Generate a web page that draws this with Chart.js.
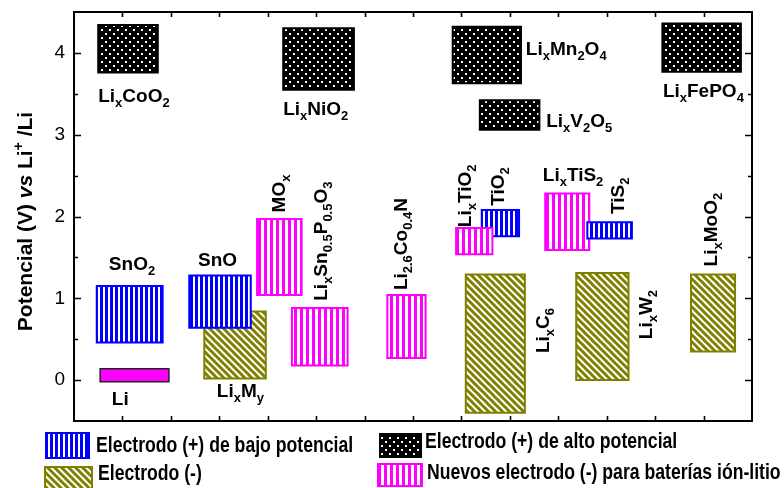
<!DOCTYPE html>
<html>
<head>
<meta charset="utf-8">
<script src="https://cdn.jsdelivr.net/npm/chart.js@4/dist/chart.umd.min.js"></script>
<style>
  html, body { margin: 0; padding: 0; background: #fff; }
  #wrap { width: 784px; height: 488px; }
</style>
</head>
<body>
<div id="wrap"><canvas id="c" width="784" height="488"></canvas></div>
<script>
// Electrode materials and their potential windows vs Li+/Li (V)
const materials = ['LixCoO2', 'LixNiO2', 'LixMn2O4', 'LixV2O5', 'LixFePO4', 'SnO2', 'Li', 'LixMy', 'SnO',
  'MOx', 'LixSn0.5P0.5O3', 'Li2.6Co0.4N', 'LixC6', 'TiO2', 'LixTiO2', 'LixTiS2', 'TiS2', 'LixW2', 'LixMoO2'];
const families = ['alto', 'alto', 'alto', 'alto', 'alto', 'bajo', 'litio', 'neg', 'bajo',
  'nuevo', 'nuevo', 'nuevo', 'neg', 'bajo', 'nuevo', 'nuevo', 'bajo', 'neg', 'neg'];
// horizontal extent of each block (slot units, 0..14)
const slotStart = [0.50, 4.32, 7.82, 8.38, 12.15, 0.47, 0.54, 2.69, 2.38, 3.78, 4.50, 6.47, 8.09, 8.42, 7.89, 9.73, 10.60, 10.37, 12.74];
const slotEnd   = [1.73, 5.78, 9.23, 9.61, 13.77, 1.83, 1.96, 3.96, 3.65, 4.70, 5.65, 7.26, 9.31, 9.19, 8.64, 10.64, 11.52, 11.45, 13.65];
// potential range (V)
const vMin = [3.76, 3.55, 3.63, 3.06, 3.77, 0.46, -0.02, 0.02, 0.64, 1.04, 0.18, 0.27, -0.40, 1.76, 1.54, 1.59, 1.73, 0.00, 0.35];
const vMax = [4.34, 4.30, 4.32, 3.42, 4.36, 1.15, 0.14, 0.84, 1.28, 1.97, 0.88, 1.04, 1.29, 2.08, 1.86, 2.28, 1.93, 1.31, 1.29];

// formula labels: "_" = subscript
const labelText = ['Li_xCoO_2', 'Li_xNiO_2', 'Li_xMn_2O_4', 'Li_xV_2O_5', 'Li_xFePO_4', 'SnO_2', 'Li', 'Li_xM_y', 'SnO',
  'MO_x', 'Li_xSn_{0.5}P_{0.5}O_3', 'Li_{2.6}Co_{0.4}N', 'Li_xC_6', 'TiO_2', 'Li_xTiO_2', 'Li_xTiS_2', 'TiS_2', 'Li_xW_2', 'Li_xMoO_2'];
// label anchors in axis units: [x, y, vertical]
const labelAnchor = [
  [0.50, 3.40, false], [4.32, 3.235, false], [9.33, 3.97, false], [9.75, 3.09, false], [12.16, 3.455, false],
  [0.72, 1.34, false], [0.78, -0.30, false], [2.95, -0.21, false], [2.56, 1.40, false],
  [4.36, 2.05, true], [5.23, 0.97, true], [6.87, 1.10, true], [9.81, 0.33, true], [8.88, 2.13, true],
  [8.19, 1.87, true], [9.68, 2.43, false], [11.36, 2.03, true], [11.93, 0.50, true], [13.27, 1.39, true]
];

const yTickValues = [0, 1, 2, 3, 4];
const yMinorValues = [0.5, 1.5, 2.5, 3.5];
const xTickValues = [1, 2, 3, 4, 5, 6, 7, 8, 9, 10, 11, 12, 13];

const legendNames = ['Electrodo (+) de bajo potencial', 'Electrodo (+) de alto potencial',
  'Electrodo (-)', 'Nuevos electrodo (-) para baterías ión-litio'];
const legendFamilies = ['bajo', 'alto', 'neg', 'nuevo'];

const edgeColor = { bajo: '#0000ff', alto: '#000000', neg: '#808000', nuevo: '#ff00ff', litio: '#222222' };

function makePattern(family) {
  const t = document.createElement('canvas');
  const g = t.getContext('2d');
  if (family === 'bajo' || family === 'nuevo') {
    const p = family === 'bajo' ? 5 : 6;
    t.width = p; t.height = 4;
    g.fillStyle = '#ffffff'; g.fillRect(0, 0, p, 4);
    g.fillStyle = edgeColor[family]; g.fillRect(0, 0, 3, 4);
  } else if (family === 'neg') {
    const p = 7;
    t.width = p; t.height = p;
    g.fillStyle = '#ffffff'; g.fillRect(0, 0, p, p);
    g.strokeStyle = '#808000'; g.lineWidth = 3;
    for (const k of [-p, 0, p]) {
      g.beginPath(); g.moveTo(k - 1, -1); g.lineTo(k + p + 1, p + 1); g.stroke();
    }
  } else if (family === 'alto') {
    t.width = 8; t.height = 8;
    g.fillStyle = '#000000'; g.fillRect(0, 0, 8, 8);
    g.fillStyle = '#ffffff'; g.fillRect(1, 1, 2, 2); g.fillRect(5, 5, 2, 2);
  } else {
    t.width = 2; t.height = 2;
    g.fillStyle = '#ff00ff'; g.fillRect(0, 0, 2, 2);
  }
  return g.createPattern(t, 'repeat');
}
const patterns = {};
['bajo', 'alto', 'neg', 'nuevo', 'litio'].forEach(f => { patterns[f] = makePattern(f); });

// rich text with sub/superscripts
function parseRich(s) {
  const runs = []; let buf = ''; let i = 0;
  while (i < s.length) {
    const c = s[i];
    if (c === '_' || c === '^') {
      if (buf) { runs.push({ t: buf, k: 'n' }); buf = ''; }
      let t;
      if (s[i + 1] === '{') { const j = s.indexOf('}', i); t = s.slice(i + 2, j); i = j + 1; }
      else { t = s[i + 1]; i += 2; }
      runs.push({ t: t, k: c === '_' ? 'sub' : 'sup' });
    } else { buf += c; i++; }
  }
  if (buf) runs.push({ t: buf, k: 'n' });
  return runs;
}
function richFont(r, f) {
  if (r.k === 'sub' || r.k === 'sup') return f.small;
  if (r.k === 'it') return f.italic;
  return f.main;
}
function richWidth(ctx, runs, f) {
  let w = 0;
  for (const r of runs) { ctx.font = richFont(r, f); w += ctx.measureText(r.t).width; }
  return w;
}
function drawRich(ctx, runs, x, y, vertical, f, center) {
  ctx.save();
  ctx.translate(x, y);
  if (vertical) ctx.rotate(-Math.PI / 2);
  ctx.textBaseline = 'alphabetic';
  ctx.textAlign = 'left';
  ctx.fillStyle = '#000';
  let cx = center ? -richWidth(ctx, runs, f) / 2 : 0;
  for (const r of runs) {
    ctx.font = richFont(r, f);
    const dy = r.k === 'sub' ? f.subShift : (r.k === 'sup' ? -f.supShift : 0);
    ctx.fillText(r.t, cx, dy);
    cx += ctx.measureText(r.t).width;
  }
  ctx.restore();
}

const labelFonts = { main: 'bold 19px "Liberation Sans", Arial, sans-serif', small: 'bold 13px "Liberation Sans", Arial, sans-serif', subShift: 5, supShift: 8 };

const formulaLabels = {
  id: 'formulaLabels',
  afterDatasetsDraw(chart) {
    const { ctx, scales: { x, y } } = chart;
    labelText.forEach((txt, i) => {
      const a = labelAnchor[i];
      drawRich(ctx, parseRich(txt), x.getPixelForValue(a[0]), y.getPixelForValue(a[1]), a[2], labelFonts, false);
    });
  }
};

const frame = {
  id: 'frame',
  afterDraw(chart) {
    const { ctx, chartArea: ca, scales: { x, y } } = chart;
    ctx.save();
    ctx.strokeStyle = '#000';
    ctx.lineWidth = 1.6;
    ctx.beginPath();
    const tick = (x1, y1, x2, y2) => { ctx.moveTo(x1, y1); ctx.lineTo(x2, y2); };
    yTickValues.forEach(v => {
      const py = Math.round(y.getPixelForValue(v)) + 0.5;
      tick(ca.left, py, ca.left + 7, py); tick(ca.right, py, ca.right - 7, py);
    });
    yMinorValues.forEach(v => {
      const py = Math.round(y.getPixelForValue(v)) + 0.5;
      tick(ca.left, py, ca.left + 4, py); tick(ca.right, py, ca.right - 4, py);
    });
    xTickValues.forEach(v => {
      const px = Math.round(x.getPixelForValue(v)) + 0.5;
      tick(px, ca.top, px, ca.top + 5); tick(px, ca.bottom, px, ca.bottom - 5);
    });
    ctx.stroke();
    ctx.lineWidth = 2;
    ctx.strokeRect(ca.left, ca.top, ca.right - ca.left, ca.bottom - ca.top);
    ctx.restore();

    // vertical axis title
    const titleFonts = {
      main: 'bold 21px "Liberation Sans", Arial, sans-serif',
      italic: 'italic bold 21px "Liberation Sans", Arial, sans-serif',
      small: 'bold 14px "Liberation Sans", Arial, sans-serif', subShift: 5, supShift: 9
    };
    const titleRuns = [{ t: 'Potencial (V) ', k: 'n' }, { t: 'vs', k: 'it' }, { t: ' Li', k: 'n' }, { t: '+', k: 'sup' }, { t: ' /Li', k: 'n' }];
    drawRich(ctx, titleRuns, 31.5, (ca.top + ca.bottom) / 2 + 5, true, titleFonts, true);
  }
};

const legendLayout = [
  { x: 45, y: 432, w: 45, h: 27, tx: 96, ty: 452 },
  { x: 379, y: 433, w: 43, h: 25, tx: 425, ty: 447.5 },
  { x: 44, y: 466, w: 49, h: 24, tx: 98, ty: 480 },
  { x: 377, y: 463, w: 46, h: 24, tx: 427, ty: 478.5 }
];

const legendPanel = {
  id: 'legendPanel',
  afterDraw(chart) {
    const ctx = chart.ctx;
    ctx.save();
    // condensed face if present, else a horizontally narrowed regular face
    ctx.font = 'bold 20px "Liberation Sans Narrow", monospace';
    const a = ctx.measureText('Electrodo potencial').width;
    ctx.font = 'bold 20px monospace';
    const b = ctx.measureText('Electrodo potencial').width;
    const narrow = Math.abs(a - b) > 0.5;
    const family = narrow ? '"Liberation Sans Narrow"' : '"Liberation Sans"';
    const sx = narrow ? 1 : 0.82;
    legendNames.forEach((name, i) => {
      const L = legendLayout[i];
      const fam = legendFamilies[i];
      ctx.fillStyle = patterns[fam];
      ctx.fillRect(L.x, L.y, L.w, L.h);
      ctx.strokeStyle = edgeColor[fam];
      ctx.lineWidth = 2;
      ctx.strokeRect(L.x + 1, L.y + 1, L.w - 2, L.h - 2);
      ctx.save();
      ctx.translate(L.tx, L.ty);
      ctx.scale(sx, 1);
      ctx.font = 'bold 21.5px ' + family + ', Arial, sans-serif';
      ctx.fillStyle = '#000';
      ctx.textBaseline = 'alphabetic';
      ctx.textAlign = 'left';
      ctx.fillText(name, 0, 0);
      ctx.restore();
    });
    ctx.restore();
  }
};

const n = materials.length;
const datasets = materials.map((m, i) => ({
  label: m,
  data: [
    { x: slotStart[i], y: vMin[i] }, { x: slotEnd[i], y: vMin[i] },
    { x: slotEnd[i], y: vMax[i] }, { x: slotStart[i], y: vMax[i] }, { x: slotStart[i], y: vMin[i] }
  ],
  showLine: true,
  fill: 'shape',
  backgroundColor: patterns[families[i]],
  borderColor: edgeColor[families[i]],
  borderWidth: families[i] === 'litio' ? 1.5 : 2,
  borderJoinStyle: 'miter',
  borderCapStyle: 'square',
  pointRadius: 0,
  pointHoverRadius: 0,
  tension: 0,
  order: n - i
}));

new Chart(document.getElementById('c'), {
  type: 'scatter',
  data: { datasets },
  options: {
    responsive: false,
    animation: false,
    devicePixelRatio: 1,
    events: [],
    layout: { padding: { left: 0, right: 32, top: 12, bottom: 67 } },
    plugins: { legend: { display: false }, tooltip: { enabled: false } },
    scales: {
      x: { type: 'linear', min: 0, max: 14, display: false },
      y: {
        type: 'linear', position: 'left', min: -0.5, max: 4.5,
        grid: { display: false, drawTicks: false },
        border: { display: false },
        ticks: { color: '#000', padding: 9, font: { family: '"Liberation Sans", Arial, sans-serif', size: 19 } },
        afterBuildTicks(scale) { scale.ticks = yTickValues.map(v => ({ value: v })); },
        afterFit(scale) { scale.width = 74; scale.paddingTop = 0; scale.paddingBottom = 0; }
      }
    }
  },
  plugins: [formulaLabels, frame, legendPanel]
});
</script>
</body>
</html>
